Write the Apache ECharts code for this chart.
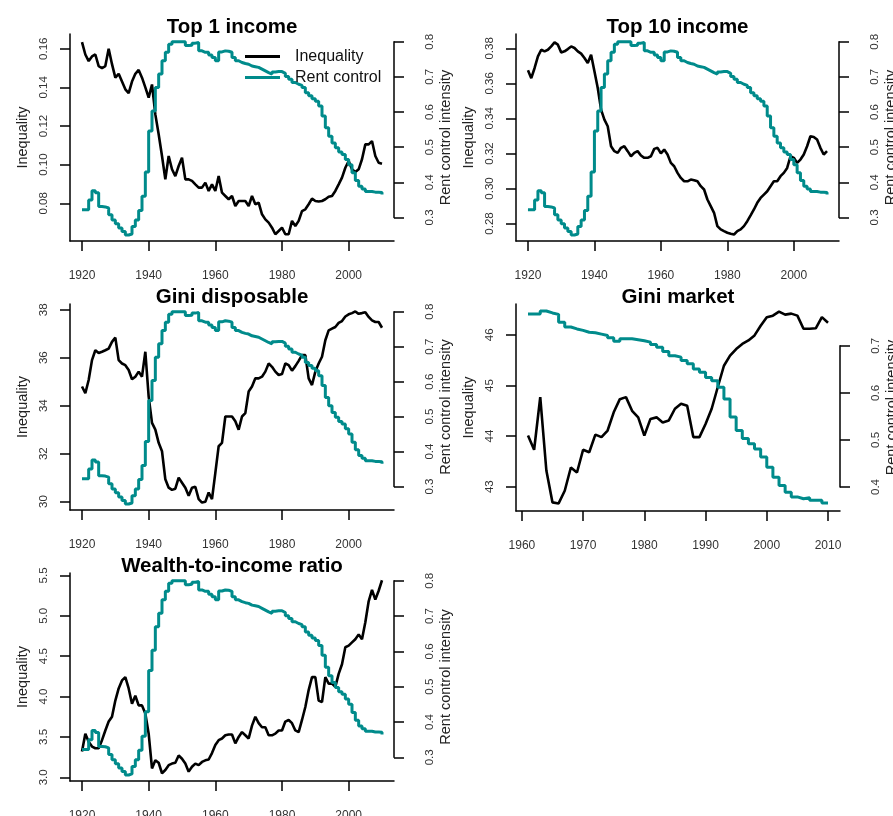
<!DOCTYPE html>
<html><head><meta charset="utf-8">
<script src="https://cdn.jsdelivr.net/npm/echarts@6.0.0/dist/echarts.min.js"></script>
<style>html,body{margin:0;padding:0;background:#fff}#c{width:893px;height:816px}</style>
</head><body><div id="c"></div><script>
// ---- data ----
const yearsLong = [1920,1921,1922,1923,1924,1925,1926,1927,1928,1929,
 1930,1931,1932,1933,1934,1935,1936,1937,1938,1939,
 1940,1941,1942,1943,1944,1945,1946,1947,1948,1949,
 1950,1951,1952,1953,1954,1955,1956,1957,1958,1959,
 1960,1961,1962,1963,1964,1965,1966,1967,1968,1969,
 1970,1971,1972,1973,1974,1975,1976,1977,1978,1979,
 1980,1981,1982,1983,1984,1985,1986,1987,1988,1989,
 1990,1991,1992,1993,1994,1995,1996,1997,1998,1999,
 2000,2001,2002,2003,2004,2005,2006,2007,2008,2009,2010];
const yearsShort = [1961,1962,1963,1964,1965,1966,1967,1968,1969,
 1970,1971,1972,1973,1974,1975,1976,1977,1978,1979,
 1980,1981,1982,1983,1984,1985,1986,1987,1988,1989,
 1990,1991,1992,1993,1994,1995,1996,1997,1998,1999,
 2000,2001,2002,2003,2004,2005,2006,2007,2008,2009,2010];

const top1 = [0.1634,0.157,0.1536,0.156,0.157,0.151,0.150,0.151,0.160,0.152,
 0.145,0.147,0.143,0.139,0.137,0.143,0.147,0.149,0.145,0.140,
 0.1347,0.1415,0.126,0.1157,0.1045,0.0924,0.1045,0.0976,0.0941,0.0993,
 0.1036,0.0924,0.0924,0.0916,0.0898,0.0881,0.0881,0.0907,0.0864,0.0898,
 0.0864,0.0941,0.0855,0.0838,0.0821,0.0838,0.0786,0.0812,0.0812,0.0812,
 0.0786,0.0838,0.0795,0.0803,0.0743,0.0717,0.0700,0.0674,0.0640,0.0657,
 0.0674,0.0640,0.0640,0.0709,0.0683,0.0709,0.0760,0.0769,0.0795,0.0824,
 0.0812,0.0809,0.0812,0.0821,0.0834,0.0838,0.0864,0.0898,0.0933,0.0984,
 0.1019,0.0976,0.0962,0.0976,0.1028,0.1105,0.1105,0.1122,0.1045,0.1010,0.1005];

const top10 = [0.3675,0.3630,0.3688,0.3754,0.3792,0.3783,0.3792,0.3811,0.3834,0.3821,
 0.3777,0.3783,0.3796,0.3811,0.3802,0.3783,0.3770,0.3745,0.3716,0.3764,
 0.3669,0.3574,0.3450,0.3393,0.3355,0.3241,0.3213,0.3203,0.3232,0.3241,
 0.3213,0.3184,0.3203,0.3213,0.3188,0.3175,0.3175,0.3184,0.3226,0.3232,
 0.3200,0.3222,0.3194,0.3146,0.3127,0.3089,0.3060,0.3041,0.3041,0.3051,
 0.3047,0.3041,0.3013,0.2994,0.2937,0.2899,0.2861,0.2785,0.2766,0.2756,
 0.2747,0.2741,0.2737,0.2756,0.2766,0.2785,0.2813,0.2846,0.2880,0.2918,
 0.2946,0.2965,0.2984,0.3013,0.3041,0.3041,0.3070,0.3089,0.3117,0.3184,
 0.3175,0.3146,0.3165,0.3194,0.3241,0.3298,0.3294,0.3279,0.3232,0.3194,0.3213];

const giniDisposable = [34.80,34.52,35.07,35.90,36.31,36.20,36.25,36.31,36.38,36.66,
 36.84,35.90,35.76,35.69,35.49,35.10,35.21,35.42,35.21,36.25,
 34.38,33.28,33.00,32.45,32.10,30.93,30.58,30.49,30.54,31.00,
 30.79,30.58,30.24,30.58,30.62,30.10,29.96,29.99,30.38,30.10,
 31.20,32.31,32.45,33.55,33.55,33.55,33.35,33.00,33.55,33.69,
 34.59,34.80,35.14,35.14,35.21,35.42,35.76,35.62,35.42,35.28,
 35.32,35.76,35.69,35.46,35.65,35.87,36.11,36.11,35.14,34.86,
 35.42,35.76,36.04,36.73,37.14,37.21,37.28,37.45,37.53,37.72,
 37.81,37.86,37.93,37.83,37.86,37.90,37.70,37.56,37.49,37.49,37.25];

const wealthIncome = [3.32,3.54,3.44,3.38,3.36,3.36,3.46,3.58,3.69,3.75,
 3.95,4.10,4.20,4.24,4.10,3.91,4.01,3.89,3.89,3.79,
 3.54,3.11,3.21,3.18,3.05,3.09,3.15,3.17,3.18,3.27,
 3.23,3.17,3.07,3.13,3.17,3.15,3.19,3.21,3.22,3.30,
 3.40,3.46,3.48,3.52,3.53,3.53,3.42,3.50,3.56,3.52,
 3.48,3.64,3.75,3.67,3.62,3.62,3.52,3.52,3.54,3.58,
 3.58,3.69,3.71,3.67,3.58,3.56,3.71,3.87,4.08,4.24,
 4.24,3.95,3.93,4.24,4.16,4.16,4.12,4.28,4.40,4.61,
 4.63,4.67,4.71,4.77,4.71,4.92,5.18,5.32,5.20,5.31,5.44];

const rentControl = [0.322,0.322,0.350,0.376,0.370,0.331,0.330,0.327,0.308,0.293,
 0.282,0.270,0.260,0.250,0.253,0.274,0.293,0.320,0.360,0.429,
 0.546,0.603,0.670,0.708,0.746,0.770,0.793,0.800,0.800,0.800,
 0.800,0.789,0.790,0.796,0.798,0.774,0.770,0.770,0.762,0.755,
 0.746,0.771,0.774,0.773,0.770,0.755,0.746,0.741,0.738,0.736,
 0.731,0.729,0.727,0.722,0.717,0.712,0.708,0.714,0.715,0.715,
 0.710,0.701,0.693,0.684,0.679,0.676,0.670,0.655,0.646,0.638,
 0.631,0.617,0.589,0.555,0.531,0.512,0.498,0.486,0.479,0.465,
 0.450,0.427,0.405,0.389,0.381,0.374,0.374,0.372,0.372,0.371,0.365];

const giniMarket = [44.01,43.73,44.77,43.32,42.69,42.67,42.92,43.38,43.28,
 43.73,43.68,44.03,43.98,44.11,44.47,44.73,44.77,44.50,44.37,
 44.01,44.34,44.37,44.27,44.31,44.54,44.64,44.60,43.98,43.98,
 44.24,44.54,44.97,45.39,45.59,45.72,45.82,45.89,45.99,46.18,
 46.35,46.38,46.46,46.40,46.42,46.38,46.12,46.12,46.13,46.35,46.24];

const rentControlMarket = [0.768,0.768,0.774,0.770,0.767,0.750,0.740,0.736,0.733,
 0.729,0.728,0.725,0.722,0.717,0.710,0.715,0.715,0.713,0.711,
 0.708,0.703,0.697,0.688,0.679,0.676,0.669,0.662,0.651,0.644,
 0.633,0.626,0.612,0.587,0.549,0.520,0.503,0.492,0.481,0.464,
 0.442,0.421,0.403,0.389,0.379,0.375,0.377,0.372,0.372,0.366,0.366];

// tick labels
const xTicksLong = [1920,1940,1960,1980,2000];
const xTicksShort = [1960,1970,1980,1990,2000,2010];
const top1Ticks = [0.08,0.10,0.12,0.14,0.16];
const top10Ticks = [0.28,0.30,0.32,0.34,0.36,0.38];
const giniDispTicks = [30,32,34,36,38];
const giniMarketTicks = [43,44,45,46];
const wealthTicks = [3.0,3.5,4.0,4.5,5.0,5.5];
const rentTicks = [0.3,0.4,0.5,0.6,0.7,0.8];
const rentTicksMarket = [0.4,0.5,0.6,0.7];

const titles = ['Top 1 income','Top 10 income','Gini disposable','Gini market','Wealth-to-income ratio'];
const seriesNames = ['Inequality','Rent control'];
const axisNames = ['Inequality','Rent control intensity'];

// ---- layout / style ----
const FONT = '"Liberation Sans", Arial, Helvetica, sans-serif';
const BLACK = '#000000';
const TEAL = '#008B8B';

const panels = [
  {x:yearsLong, y:top1, rc:rentControl, yTicks:top1Ticks, yDec:2, xTicks:xTicksLong, rTicks:rentTicks,
   box:{left:70, top:34, width:324, height:207}, xr:[1916.4,2013.6], yr:[0.0605,0.1676], rr:[0.233,0.822]},
  {x:yearsLong, y:top10, rc:rentControl, yTicks:top10Ticks, yDec:2, xTicks:xTicksLong, rTicks:rentTicks,
   box:{left:516, top:34, width:323, height:207}, xr:[1916.4,2013.6], yr:[0.2700,0.3882], rr:[0.233,0.822]},
  {x:yearsLong, y:giniDisposable, rc:rentControl, yTicks:giniDispTicks, yDec:0, xTicks:xTicksLong, rTicks:rentTicks,
   box:{left:70, top:304, width:324, height:206}, xr:[1916.4,2013.6], yr:[29.65,38.24], rr:[0.233,0.822]},
  {x:yearsShort, y:giniMarket, rc:rentControlMarket, yTicks:giniMarketTicks, yDec:0, xTicks:xTicksShort, rTicks:rentTicksMarket,
   box:{left:516, top:304, width:324, height:207}, xr:[1959.04,2011.96], yr:[42.52,46.61], rr:[0.349,0.789]},
  {x:yearsLong, y:wealthIncome, rc:rentControl, yTicks:wealthTicks, yDec:1, xTicks:xTicksLong, rTicks:rentTicks,
   box:{left:70, top:573, width:324, height:208}, xr:[1916.4,2013.6], yr:[2.954,5.53], rr:[0.233,0.822]}
];

const axisLineStyle = {color:BLACK, width:1.5};
const tickLabelStyle = {fontFamily:FONT, fontSize:11.5, color:'#333'};
const nameStyle = {fontFamily:FONT, fontSize:14.5, color:'#222'};

const option = {
  animation:false, backgroundColor:'#ffffff',
  title:[], grid:[], xAxis:[], yAxis:[], series:[],
  legend:{
    show:true, orient:'vertical', left:245, top:47, padding:0,
    itemWidth:35, itemHeight:3, icon:'rect', itemGap:2, selectedMode:false,
    data:seriesNames,
    textStyle:{fontFamily:FONT, fontSize:16, color:'#111', lineHeight:19, padding:[0,0,0,10]}
  }
};

panels.forEach((p, i) => {
  const b = p.box;
  const gMain = option.grid.length;
  option.grid.push({left:b.left, top:b.top, width:b.width, height:b.height, containLabel:false, outerBoundsMode:'none'});
  // overlay grid holding the visible right axis (only over its tick range, R style)
  const rLo = p.rTicks[0], rHi = p.rTicks[p.rTicks.length-1];
  const span = p.rr[1]-p.rr[0];
  const gOver = option.grid.length;
  option.grid.push({left:b.left, top:b.top + (p.rr[1]-rHi)/span*b.height, width:b.width,
    height:(rHi-rLo)/span*b.height, containLabel:false, outerBoundsMode:'none'});

  const xMain = option.xAxis.length;
  option.xAxis.push({
    gridIndex:gMain, type:'value', min:p.xr[0], max:p.xr[1], position:'bottom',
    axisLine:{show:true, onZero:false, lineStyle:axisLineStyle},
    axisTick:{show:true, length:10, inside:false, customValues:p.xTicks, lineStyle:axisLineStyle},
    axisLabel:{show:true, customValues:p.xTicks, margin:29, fontFamily:FONT, fontSize:12, color:'#333',
      showMinLabel:true, showMaxLabel:true, formatter:v=>String(Math.round(v))},
    splitLine:{show:false}
  });
  option.xAxis.push({gridIndex:gOver, type:'value', min:0, max:1, show:false});

  const yLeft = option.yAxis.length;
  option.yAxis.push({
    gridIndex:gMain, type:'value', position:'left', min:p.yr[0], max:p.yr[1],
    name:axisNames[0], nameLocation:'middle', nameGap:40, nameTextStyle:nameStyle,
    axisLine:{show:true, onZero:false, lineStyle:axisLineStyle},
    axisTick:{show:true, length:10, inside:false, customValues:p.yTicks, lineStyle:axisLineStyle},
    axisLabel:Object.assign({show:true, customValues:p.yTicks, rotate:90, margin:20,
      showMinLabel:true, showMaxLabel:true, formatter:v=>v.toFixed(p.yDec)}, tickLabelStyle),
    splitLine:{show:false}
  });
  const yRight = option.yAxis.length;
  option.yAxis.push({
    gridIndex:gMain, type:'value', position:'right', min:p.rr[0], max:p.rr[1],
    name:axisNames[1], nameLocation:'middle', nameGap:44, nameTextStyle:nameStyle,
    axisLine:{show:false, onZero:false}, axisTick:{show:false}, axisLabel:{show:false}, splitLine:{show:false}
  });
  option.yAxis.push({
    gridIndex:gOver, type:'value', position:'right', min:rLo, max:rHi,
    axisLine:{show:true, onZero:false, lineStyle:axisLineStyle},
    axisTick:{show:true, length:10, inside:false, customValues:p.rTicks, lineStyle:axisLineStyle},
    axisLabel:Object.assign({show:true, customValues:p.rTicks, rotate:90, margin:30,
      showMinLabel:true, showMaxLabel:true, formatter:v=>v.toFixed(1)}, tickLabelStyle),
    splitLine:{show:false}
  });

  option.series.push({
    type:'line', name:seriesNames[0], xAxisIndex:xMain, yAxisIndex:yLeft,
    data:p.x.map((yr,k)=>[yr, p.y[k]]), showSymbol:false, symbol:'none',
    lineStyle:{color:BLACK, width:2.6}, itemStyle:{color:BLACK}, z:2
  });
  option.series.push({
    type:'line', name:seriesNames[1], xAxisIndex:xMain, yAxisIndex:yRight, step:'end',
    data:p.x.map((yr,k)=>[yr, p.rc[k]]), showSymbol:false, symbol:'none',
    lineStyle:{color:TEAL, width:3}, itemStyle:{color:TEAL}, z:3
  });

  option.title.push({
    text:titles[i], left:b.left + b.width/2, top:b.top-17, textAlign:'center', padding:0,
    textStyle:{fontFamily:FONT, fontSize:20.5, fontWeight:'bold', color:'#000'}
  });
});

const chart = echarts.init(document.getElementById('c'), null, {renderer:'canvas', width:893, height:816});
chart.setOption(option);
</script></body></html>
